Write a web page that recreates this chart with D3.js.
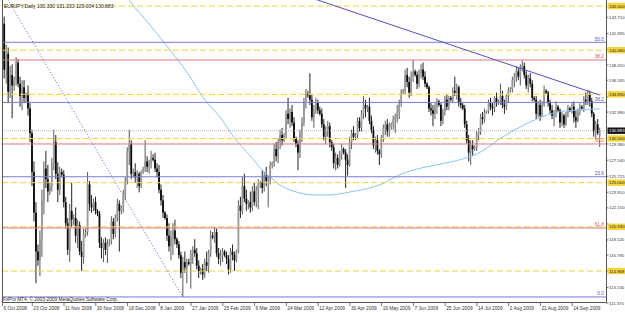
<!DOCTYPE html>
<html>
<head>
<meta charset="utf-8">
<script src="https://cdn.jsdelivr.net/npm/d3@7"></script>
<style>
html, body { margin: 0; padding: 0; background: #fff; }
svg { display: block; font-family: "Liberation Sans", Arial, sans-serif; }
</style>
</head>
<body>
<svg id="chart" width="625" height="313"></svg>
<script>
// EURJPY daily bars (bar 0 = 6 Oct 2008)
const barOpen = [143.0,137.8,139.6,135.3,137.2,136.0,136.6,138.6,136.2,134.8,135.8,134.6,134.9,133.4,130.6,126.2,121.6,117.2,116.2,118.6,
123.0,126.6,125.4,124.0,124.6,127.2,129.6,126.0,124.2,126.2,125.9,122.8,120.4,117.4,121.8,120.8,121.0,119.0,120.2,117.2,
116.6,119.2,119.4,124.8,122.6,122.2,122.8,121.8,121.5,118.2,117.6,118.2,117.4,118.0,118.4,120.6,119.2,121.0,122.6,121.8,
122.2,123.6,125.2,128.6,129.4,126.0,126.2,125.6,126.0,124.6,126.2,126.6,127.4,126.8,127.2,127.8,127.6,126.6,126.2,124.2,
123.0,121.6,121.0,119.0,117.8,118.8,119.6,118.6,118.0,116.8,114.8,116.0,115.4,116.0,115.8,117.0,117.4,117.0,115.6,115.0,
115.2,114.6,116.0,115.6,117.0,119.0,118.8,119.4,117.0,116.4,116.8,117.2,116.8,116.4,115.2,117.2,116.8,116.2,117.2,122.4,
121.8,124.6,123.2,122.6,122.8,122.2,124.0,122.8,124.2,124.8,125.0,124.4,125.8,125.2,125.4,127.0,127.2,128.8,128.0,129.6,
130.4,129.8,130.4,132.8,132.2,133.0,131.8,130.0,129.4,128.4,130.6,131.8,134.2,135.0,134.9,134.4,132.4,133.2,134.0,133.2,
132.8,131.6,130.2,130.8,131.4,129.6,129.0,127.2,127.8,127.0,128.2,128.8,128.4,127.6,127.0,129.6,130.6,130.2,130.4,132.0,
131.2,132.8,133.8,133.4,133.6,132.0,131.0,129.2,129.8,128.6,128.2,130.0,131.2,131.6,130.8,131.4,131.6,132.2,132.4,133.0,
134.0,135.2,135.4,137.2,136.4,135.2,137.0,137.6,137.2,136.2,137.4,137.8,137.0,136.2,135.8,133.4,133.2,132.8,133.6,134.2,
133.8,132.0,133.0,134.4,133.6,134.6,134.4,135.4,135.2,135.8,134.0,133.8,133.4,131.6,129.8,128.4,129.2,128.8,129.0,130.4,
130.8,132.4,132.2,133.0,133.1,134.0,133.6,133.4,134.6,134.0,134.2,134.8,133.8,133.6,134.8,135.4,135.6,136.6,137.0,137.6,
137.0,138.0,138.2,137.2,136.0,136.8,136.2,134.6,134.4,132.8,133.8,132.6,133.8,135.4,135.2,134.0,133.2,132.6,132.8,133.6,
133.2,131.8,132.6,131.6,132.8,133.4,133.2,133.6,132.4,132.0,133.0,133.6,133.4,134.4,134.2,135.0,134.2,132.8,130.8,131.6,
130.33];
const barHigh = [143.8,140.6,140.3,138.2,138.4,137.0,139.2,139.0,137.0,136.6,136.6,135.2,136.0,134.0,131.0,127.4,122.8,118.0,119.6,124.2,
127.4,128.6,127.0,125.0,127.8,131.0,130.4,127.3,126.8,126.6,126.4,123.4,121.0,122.6,125.0,121.4,122.2,120.8,120.6,118.4,
119.8,119.8,126.2,125.2,123.6,123.2,123.4,122.0,121.8,118.8,118.6,118.8,118.6,118.6,121.2,121.0,121.4,123.2,123.0,122.4,
124.2,125.6,129.0,131.0,129.8,126.6,127.2,126.4,126.2,126.4,126.8,129.8,128.0,127.6,128.6,128.2,128.4,127.2,127.0,124.8,
123.6,121.8,121.4,120.4,119.6,120.4,120.8,118.8,118.4,117.2,116.6,117.2,116.4,116.4,117.4,117.8,118.6,117.6,116.2,115.4,
115.8,116.4,117.2,117.4,119.6,119.4,120.0,119.8,117.6,117.4,117.6,117.4,117.2,116.8,117.6,118.0,117.2,117.4,123.0,123.4,
125.6,126.0,124.2,123.0,124.0,124.6,125.0,124.6,125.4,125.2,126.4,126.2,126.8,125.8,127.4,127.4,129.4,129.6,130.0,131.0,
131.2,130.6,133.2,134.6,133.4,133.8,132.4,130.2,129.8,131.0,132.4,134.6,135.6,135.4,137.4,135.0,133.8,134.6,134.4,133.6,
133.4,132.2,131.4,132.0,131.8,129.8,129.4,128.4,128.2,128.6,129.4,129.0,128.8,128.2,130.2,131.0,131.4,130.6,132.4,132.4,
133.2,134.8,134.4,133.8,134.6,132.6,131.4,130.2,130.4,128.8,130.4,131.6,132.0,132.2,131.8,131.8,132.6,132.8,133.8,134.4,
135.6,135.6,137.8,138.0,137.0,137.6,138.9,137.8,137.6,137.8,138.4,138.6,137.6,136.4,136.0,134.0,133.8,134.0,134.6,134.4,
134.0,133.4,134.8,135.0,134.8,134.8,135.8,137.0,136.2,136.0,134.6,134.0,133.8,132.0,130.4,129.8,129.8,129.2,130.8,131.2,
132.8,133.0,133.4,133.2,134.4,134.6,134.0,134.8,135.2,134.4,136.2,135.4,134.4,135.0,135.8,135.8,137.0,137.4,138.2,138.0,
138.4,138.8,138.6,137.6,137.2,137.4,136.6,134.8,134.8,134.2,134.4,134.2,136.0,135.6,135.4,134.4,133.8,133.2,134.2,133.8,
133.4,133.0,132.8,133.0,133.8,133.6,134.0,134.2,133.2,133.4,134.0,133.8,134.8,135.2,135.5,135.4,134.6,133.0,132.0,132.2,
131.233];
const barLow = [136.8,136.2,134.0,134.6,132.3,135.4,136.0,135.8,133.6,133.2,134.0,134.0,132.6,129.6,124.6,120.6,113.6,115.6,114.4,116.6,
121.4,124.4,122.8,123.6,124.0,126.4,125.4,122.8,123.6,125.6,122.2,119.8,116.8,116.0,120.0,120.2,118.2,117.6,116.8,115.0,
115.8,118.8,119.0,121.8,121.6,121.8,121.4,121.2,117.6,116.4,116.0,116.8,115.9,117.8,118.0,118.6,118.8,120.6,117.2,121.4,
121.6,123.0,124.8,127.0,125.4,125.6,125.0,124.4,123.9,124.4,126.0,126.2,126.2,126.0,126.6,127.4,126.2,125.6,123.8,122.4,
121.0,120.8,118.4,117.2,116.2,116.8,118.0,117.6,116.4,114.2,112.06,114.8,113.6,115.6,113.0,115.8,116.6,115.2,114.2,114.6,
114.0,114.2,115.0,114.8,116.6,118.6,118.2,116.6,115.8,115.6,116.0,116.6,115.8,114.6,114.8,116.2,115.0,116.0,117.0,121.0,
121.4,122.8,121.8,122.0,121.6,121.8,122.4,122.2,122.0,124.4,123.8,124.0,124.6,122.2,124.8,126.6,126.8,127.4,127.2,128.8,
129.2,129.6,130.0,131.6,131.2,131.4,129.6,129.0,126.4,127.8,129.6,131.4,133.4,134.6,133.8,132.0,131.2,132.8,132.8,132.6,
131.2,129.8,129.4,130.2,129.0,128.6,126.6,126.4,126.6,126.8,127.6,128.2,124.4,125.8,126.8,128.8,129.8,129.8,130.0,130.8,
130.8,132.2,132.4,133.0,131.6,130.6,128.8,128.4,128.2,127.0,127.8,129.6,130.4,130.2,130.2,131.0,131.0,130.6,131.8,132.2,
133.6,135.0,135.0,135.8,134.6,134.8,136.4,137.0,135.6,135.8,136.8,136.6,135.8,135.6,133.0,132.6,131.4,132.2,132.8,133.6,
131.4,131.6,132.6,133.2,133.2,134.2,134.0,134.8,134.4,133.6,133.4,133.2,131.2,129.4,127.4,127.0,128.0,128.6,128.6,129.8,
130.4,131.6,131.8,132.8,132.8,133.2,132.6,133.0,133.6,133.8,133.8,133.4,132.8,133.2,134.0,135.2,135.2,135.8,136.4,136.6,
136.0,137.6,136.8,135.6,135.2,135.8,134.2,134.2,132.2,132.4,132.0,132.4,133.6,135.0,133.6,132.8,132.2,131.4,132.4,133.0,
131.2,131.4,131.2,131.4,132.4,133.0,132.8,131.8,131.2,131.8,132.6,133.2,133.0,133.8,133.8,133.6,132.4,130.2,130.0,130.4,
129.034];
const barClose = [137.8,139.6,135.3,137.2,136.0,136.6,138.6,136.2,134.8,135.8,134.6,134.9,133.4,130.6,126.2,121.6,117.2,116.2,118.6,123.0,
126.6,125.4,124.0,124.6,127.2,129.6,126.0,124.2,126.2,125.9,122.8,120.4,117.4,121.8,120.8,121.0,119.0,120.2,117.2,116.6,
119.2,119.4,124.8,122.6,122.2,122.8,121.8,121.5,118.2,117.6,118.2,117.4,118.0,118.4,120.6,119.2,121.0,122.6,121.8,122.2,
123.6,125.2,128.6,129.4,126.0,126.2,125.6,126.0,124.6,126.2,126.6,127.4,126.8,127.2,127.8,127.6,126.6,126.2,124.2,123.0,
121.6,121.0,119.0,117.8,118.8,119.6,118.6,118.0,116.8,114.8,116.0,115.4,116.0,115.8,117.0,117.4,117.0,115.6,115.0,115.2,
114.6,116.0,115.6,117.0,119.0,118.8,119.4,117.0,116.4,116.8,117.2,116.8,116.4,115.2,117.2,116.8,116.2,117.2,122.4,121.8,
124.6,123.2,122.6,122.8,122.2,124.0,122.8,124.2,124.8,125.0,124.4,125.8,125.2,125.4,127.0,127.2,128.8,128.0,129.6,130.4,
129.8,130.4,132.8,132.2,133.0,131.8,130.0,129.4,128.4,130.6,131.8,134.2,135.0,134.9,134.4,132.4,133.2,134.0,133.2,132.8,
131.6,130.2,130.8,131.4,129.6,129.0,127.2,127.8,127.0,128.2,128.8,128.4,127.6,127.0,129.6,130.6,130.2,130.4,132.0,131.2,
132.8,133.8,133.4,133.6,132.0,131.0,129.2,129.8,128.6,128.2,130.0,131.2,131.6,130.8,131.4,131.6,132.2,132.4,133.0,134.0,
135.2,135.4,137.2,136.4,135.2,137.0,137.6,137.2,136.2,137.4,137.8,137.0,136.2,135.8,133.4,133.2,132.8,133.6,134.2,133.8,
132.0,133.0,134.4,133.6,134.6,134.4,135.4,135.2,135.8,134.0,133.8,133.4,131.6,129.8,128.4,129.2,128.8,129.0,130.4,130.8,
132.4,132.2,133.0,133.1,134.0,133.6,133.4,134.6,134.0,134.2,134.8,133.8,133.6,134.8,135.4,135.6,136.6,137.0,137.6,137.0,
138.0,138.2,137.2,136.0,136.8,136.2,134.6,134.4,132.8,133.8,132.6,133.8,135.4,135.2,134.0,133.2,132.6,132.8,133.6,133.2,
131.8,132.6,131.6,132.8,133.4,133.2,133.6,132.4,132.0,133.0,133.6,133.4,134.4,134.2,135.0,134.2,132.8,130.8,131.6,130.6,
130.883];

// moving average, read at a few bars
const maBars = [61,63,73,84,94,100,109,116,124,130,134,139,144,149,157,163,169,174,182,189,199,210,220,231,240,251,260,265,277,289,300];
const maValues = [146.36,145.68,142.96,139.90,136.85,134.70,132.32,130.06,128.02,126.43,125.64,124.73,124.17,123.83,123.60,123.60,123.72,123.94,124.28,124.73,125.87,126.66,127.11,127.68,128.47,130.17,131.30,131.87,132.89,133.23,133.34];

// date axis
const dateLabels = ["6 Oct 2008","23 Oct 2008","11 Nov 2008","30 Nov 2008","18 Dec 2008","8 Jan 2009","27 Jan 2009","15 Feb 2009","6 Mar 2009","24 Mar 2009","12 Apr 2009","30 Apr 2009","19 May 2009","7 Jun 2009","25 Jun 2009","14 Jul 2009","2 Aug 2009","21 Aug 2009","14 Sep 2009"];
const dateBars = [0,15,31,47,63,79,95,111,127,143,159,175,191,207,223,239,255,271,287];

// price axis
const priceTicks = ["143.710","141.895","140.080","138.320","136.595","134.690","132.990","129.380","127.540","125.725","123.910","122.150","120.330","118.520","116.790","114.969","113.130","111.370"];
const roundLevels = [145, 140, 135, 130, 125, 120, 115];
const lastPrice = 130.883;

// fibonacci objects
const fibLevels = [0, 23.6, 38.2, 50.0, 61.8, 100];
const blueFib = { low: 112.06, high: 169.72 };   // 0.0 at the low
const redFib = { low: 89.09, high: 169.67 };     // 0.0 at the high
const fibDiagBars = [-61, 90];
const fibDiagPrices = [169.72, 112.06];
const trendBars = [155, 300];
const trendPrices = [145.9, 134.92];

const header = "EURJPY,Daily  130.330 131.233 129.034 130.883";
const copyright = "FxPro MT4, \u00a9 2003-2009 MetaQuotes Software Corp.";

const svg = d3.select("#chart");
const pLeft = 2, pRight = 606, pTop = 0, pBottom = 302;

const x = d3.scaleLinear().domain([0, 300]).range([4.2, 599.7]);
const y = d3.scaleLinear().domain([111.489, 145.679]).range([pBottom, pTop]);

svg.append("rect").attr("width", 625).attr("height", 313).attr("fill", "#fff");

svg.append("clipPath").attr("id", "plotclip")
  .append("rect").attr("x", pLeft).attr("y", pTop).attr("width", pRight - pLeft).attr("height", pBottom - pTop);

const plot = svg.append("g").attr("clip-path", "url(#plotclip)");

// candles
const bars = d3.range(barClose.length).map(i => ({
  i: i, o: barOpen[i], h: barHigh[i], l: barLow[i], c: barClose[i]
}));

const cg = plot.append("g");
cg.selectAll("line.wick")
  .data(bars)
  .enter()
  .append("line")
  .attr("x1", d => x(d.i))
  .attr("x2", d => x(d.i))
  .attr("y1", d => y(d.h))
  .attr("y2", d => y(d.l))
  .attr("stroke", d => d.c >= d.o ? "#5a5a5a" : "#222")
  .attr("stroke-width", 1);

cg.selectAll("rect.body")
  .data(bars)
  .enter()
  .append("rect")
  .attr("x", d => x(d.i) - 0.9)
  .attr("width", 1.8)
  .attr("y", d => y(Math.max(d.o, d.c)))
  .attr("height", d => Math.max(0.8, Math.abs(y(d.o) - y(d.c))))
  .attr("fill", d => d.c >= d.o ? "#999" : "#0a0a0a");

// moving average
const maLine = d3.line()
  .x((d, k) => x(maBars[k]))
  .y(d => y(d))
  .curve(d3.curveMonotoneX);
plot.append("path")
  .attr("d", maLine(maValues))
  .attr("fill", "none")
  .attr("stroke", "#86c5f5")
  .attr("stroke-width", 1);

// round number lines
plot.selectAll("line.round")
  .data(roundLevels)
  .enter()
  .append("line")
  .attr("x1", pLeft).attr("x2", pRight)
  .attr("y1", d => y(d)).attr("y2", d => y(d))
  .attr("stroke", "#f2d23c")
  .attr("stroke-width", 1)
  .attr("stroke-dasharray", "6,3");

// fibonacci levels
const blueLines = fibLevels.map(l => ({ l: l, p: blueFib.low + l / 100 * (blueFib.high - blueFib.low) }));
const redLines = fibLevels.map(l => ({ l: l, p: redFib.high - l / 100 * (redFib.high - redFib.low) }));

function fibSet(lines, color, textColor) {
  plot.selectAll(null)
    .data(lines)
    .enter()
    .append("line")
    .attr("x1", pLeft).attr("x2", pRight)
    .attr("y1", d => y(d.p)).attr("y2", d => y(d.p))
    .attr("stroke", color)
    .attr("stroke-width", 1);
  plot.selectAll(null)
    .data(lines.filter(d => y(d.p) > pTop && y(d.p) < pBottom))
    .enter()
    .append("text")
    .attr("x", pRight - 2)
    .attr("y", d => y(d.p) - 1.5)
    .attr("text-anchor", "end")
    .attr("font-size", 4.8)
    .attr("fill", textColor)
    .text(d => d.l.toFixed(1));
}
fibSet(redLines, "#e07878", "#d06060");
fibSet(blueLines, "#7a7ad6", "#5656c8");

// fibonacci diagonal (dotted)
plot.append("line")
  .attr("x1", x(fibDiagBars[0])).attr("y1", y(fibDiagPrices[0]))
  .attr("x2", x(fibDiagBars[1])).attr("y2", y(fibDiagPrices[1]))
  .attr("stroke", "#5e5ed0")
  .attr("stroke-width", 1)
  .attr("stroke-dasharray", "1,2");

// trend line
plot.append("line")
  .attr("x1", x(trendBars[0])).attr("y1", y(trendPrices[0]))
  .attr("x2", x(trendBars[1])).attr("y2", y(trendPrices[1]))
  .attr("stroke", "#5050c8")
  .attr("stroke-width", 1);

// bid line
plot.append("line")
  .attr("x1", pLeft).attr("x2", pRight)
  .attr("y1", y(lastPrice)).attr("y2", y(lastPrice))
  .attr("stroke", "#b8b8b8")
  .attr("stroke-width", 1)
  .attr("stroke-dasharray", "1,1");

// texts inside the chart
svg.append("text").attr("x", 4).attr("y", 7.8)
  .attr("font-size", 5).attr("fill", "#222").text(header);
svg.append("text").attr("x", 3).attr("y", 300.5)
  .attr("font-size", 4.8).attr("fill", "#222").text(copyright);

// frame
svg.append("path")
  .attr("d", `M${pLeft + 0.5},${pTop}V${pBottom + 0.5}H${pRight + 0.5}V${pTop}`)
  .attr("fill", "none")
  .attr("stroke", "#555")
  .attr("stroke-width", 1);

// date axis
const dg = svg.append("g");
dateBars.forEach((b, k) => {
  const xx = x(b);
  dg.append("line").attr("x1", xx - 1.7).attr("x2", xx - 1.7)
    .attr("y1", pBottom).attr("y2", pBottom + 4)
    .attr("stroke", "#555").attr("stroke-width", 0.8);
  dg.append("text").attr("x", xx - 0.7).attr("y", 310)
    .attr("font-size", 4.8).attr("fill", "#333").text(dateLabels[k]);
});

// price axis
const ag = svg.append("g");
const tickPos = priceTicks.map(t => ({ t: t, yy: y(+t) }));
const boxed = roundLevels.map(p => {
  const near = tickPos.find(d => Math.abs(d.yy - y(p)) < 4);
  return { p: p, text: near ? near.t : p.toFixed(3), tick: near };
});
function axisText(xx, yy, txt, color) {
  ag.append("text").attr("x", xx).attr("y", yy)
    .attr("font-size", 4.3).attr("fill", color)
    .text(txt);
}
tickPos.forEach(d => {
  ag.append("line").attr("x1", pRight).attr("x2", pRight + 2.5)
    .attr("y1", d.yy).attr("y2", d.yy)
    .attr("stroke", "#555").attr("stroke-width", 0.8);
  if (boxed.some(b => b.tick === d)) return;
  axisText(609, d.yy + 1.6, d.t, "#333");
});
boxed.forEach(b => {
  const yy = y(b.p);
  ag.append("rect").attr("x", 607.5).attr("y", yy - 3.2).attr("width", 17.5).attr("height", 6.4)
    .attr("fill", "#f5d43c");
  axisText(609, yy + 1.6, b.text, "#222");
});
ag.append("rect").attr("x", 607.5).attr("y", y(lastPrice) - 3.2).attr("width", 17.5).attr("height", 6.4)
  .attr("fill", "#111");
axisText(609, y(lastPrice) + 1.6, lastPrice.toFixed(3), "#fff");
</script>
</body>
</html>
